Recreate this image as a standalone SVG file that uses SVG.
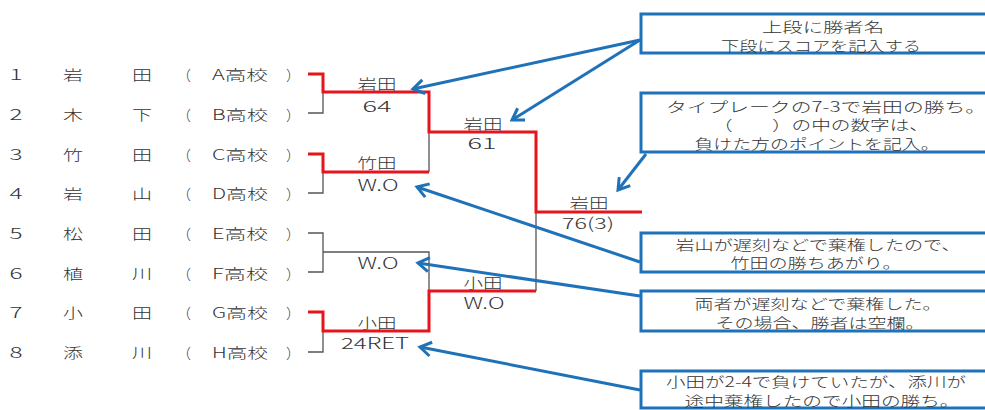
<svg xmlns="http://www.w3.org/2000/svg" width="985" height="410" viewBox="0 0 985 410">
<defs>
<style>
text{font-family:"Noto Sans CJK JP","Noto Sans",sans-serif;fill:#333;font-size:14px;font-weight:300;text-anchor:middle}
.lat{font-size:15.5px}
.st{text-anchor:start}
.red{fill:none;stroke:#e8141c;stroke-width:3;stroke-linejoin:miter}
.gry{fill:none;stroke:#555;stroke-width:1.3}
.arr{fill:none;stroke:#1f72b8;stroke-width:3;marker-end:url(#ah)}
.box{fill:#fff;stroke:#1f72b8;stroke-width:3}
</style>
<marker id="ah" markerUnits="userSpaceOnUse" viewBox="-14 -10 16 20" refX="0" refY="0" markerWidth="16" markerHeight="20" orient="auto" overflow="visible">
<path d="M-11,-7 L0,0 L-11,7" fill="none" stroke="#1f72b8" stroke-width="3"/>
</marker>
</defs>
<rect width="985" height="410" fill="#fff"/>

<g id="players">
<g id="p1"><text class="lat" x="16" y="80" textLength="13" lengthAdjust="spacingAndGlyphs">1</text><text x="73" y="80" textLength="20" lengthAdjust="spacingAndGlyphs">岩</text><text x="142" y="80" textLength="20" lengthAdjust="spacingAndGlyphs">田</text><text class="st" x="177" y="80">（</text><text x="240" y="80" textLength="56" lengthAdjust="spacingAndGlyphs">A高校</text><text class="st" x="286" y="80">）</text></g>
<g id="p2"><text class="lat" x="16" y="119.5" textLength="13" lengthAdjust="spacingAndGlyphs">2</text><text x="73" y="119.5" textLength="20" lengthAdjust="spacingAndGlyphs">木</text><text x="142" y="119.5" textLength="20" lengthAdjust="spacingAndGlyphs">下</text><text class="st" x="177" y="119.5">（</text><text x="240" y="119.5" textLength="56" lengthAdjust="spacingAndGlyphs">B高校</text><text class="st" x="286" y="119.5">）</text></g>
<g id="p3"><text class="lat" x="16" y="159.5" textLength="13" lengthAdjust="spacingAndGlyphs">3</text><text x="73" y="159.5" textLength="20" lengthAdjust="spacingAndGlyphs">竹</text><text x="142" y="159.5" textLength="20" lengthAdjust="spacingAndGlyphs">田</text><text class="st" x="177" y="159.5">（</text><text x="240" y="159.5" textLength="56" lengthAdjust="spacingAndGlyphs">C高校</text><text class="st" x="286" y="159.5">）</text></g>
<g id="p4"><text class="lat" x="16" y="199" textLength="13" lengthAdjust="spacingAndGlyphs">4</text><text x="73" y="199" textLength="20" lengthAdjust="spacingAndGlyphs">岩</text><text x="142" y="199" textLength="20" lengthAdjust="spacingAndGlyphs">山</text><text class="st" x="177" y="199">（</text><text x="240" y="199" textLength="56" lengthAdjust="spacingAndGlyphs">D高校</text><text class="st" x="286" y="199">）</text></g>
<g id="p5"><text class="lat" x="16" y="239" textLength="13" lengthAdjust="spacingAndGlyphs">5</text><text x="73" y="239" textLength="20" lengthAdjust="spacingAndGlyphs">松</text><text x="142" y="239" textLength="20" lengthAdjust="spacingAndGlyphs">田</text><text class="st" x="177" y="239">（</text><text x="240" y="239" textLength="56" lengthAdjust="spacingAndGlyphs">E高校</text><text class="st" x="286" y="239">）</text></g>
<g id="p6"><text class="lat" x="16" y="278.5" textLength="13" lengthAdjust="spacingAndGlyphs">6</text><text x="73" y="278.5" textLength="20" lengthAdjust="spacingAndGlyphs">植</text><text x="142" y="278.5" textLength="20" lengthAdjust="spacingAndGlyphs">川</text><text class="st" x="177" y="278.5">（</text><text x="240" y="278.5" textLength="56" lengthAdjust="spacingAndGlyphs">F高校</text><text class="st" x="286" y="278.5">）</text></g>
<g id="p7"><text class="lat" x="16" y="318" textLength="13" lengthAdjust="spacingAndGlyphs">7</text><text x="73" y="318" textLength="20" lengthAdjust="spacingAndGlyphs">小</text><text x="142" y="318" textLength="20" lengthAdjust="spacingAndGlyphs">田</text><text class="st" x="177" y="318">（</text><text x="240" y="318" textLength="56" lengthAdjust="spacingAndGlyphs">G高校</text><text class="st" x="286" y="318">）</text></g>
<g id="p8"><text class="lat" x="16" y="358" textLength="13" lengthAdjust="spacingAndGlyphs">8</text><text x="73" y="358" textLength="20" lengthAdjust="spacingAndGlyphs">添</text><text x="142" y="358" textLength="20" lengthAdjust="spacingAndGlyphs">川</text><text class="st" x="177" y="358">（</text><text x="240" y="358" textLength="56" lengthAdjust="spacingAndGlyphs">H高校</text><text class="st" x="286" y="358">）</text></g>
</g>

<g id="bracket">
<path class="gry" d="M308,113 H323 V92 M429,132 V172 M308,193 H323 V172 M308,233 H323 V272 H308 M323,252 H429 V291 M308,352 H323 V331 M536,212 V291"/>
<path class="red" d="M308,74 H323 V92 H429 V132 H536 V212 H642"/>
<path class="red" d="M308,154 H323 V172 H429"/>
<path class="red" d="M308,312 H323 V331 H429 V291 H536"/>
</g>

<g id="results">
<g id="m1"><text x="377" y="89" textLength="39" lengthAdjust="spacingAndGlyphs">岩田</text><text class="lat" x="377" y="111.5" textLength="29" lengthAdjust="spacingAndGlyphs">64</text></g>
<g id="m2"><text x="377" y="168" textLength="39" lengthAdjust="spacingAndGlyphs">竹田</text><text class="lat" x="378" y="190.5" textLength="41" lengthAdjust="spacingAndGlyphs">W.O</text></g>
<g id="m3"><text class="lat" x="378" y="268.5" textLength="41" lengthAdjust="spacingAndGlyphs">W.O</text></g>
<g id="m4"><text x="377" y="328" textLength="39" lengthAdjust="spacingAndGlyphs">小田</text><text class="lat" x="375" y="349" textLength="68" lengthAdjust="spacingAndGlyphs">24RET</text></g>
<g id="s1"><text x="483" y="129" textLength="39" lengthAdjust="spacingAndGlyphs">岩田</text><text class="lat" x="482" y="149" textLength="29" lengthAdjust="spacingAndGlyphs">61</text></g>
<g id="s2"><text x="483" y="288" textLength="39" lengthAdjust="spacingAndGlyphs">小田</text><text class="lat" x="484" y="309" textLength="41" lengthAdjust="spacingAndGlyphs">W.O</text></g>
<g id="final"><text x="589" y="208" textLength="39" lengthAdjust="spacingAndGlyphs">岩田</text><text class="lat" x="588" y="229" textLength="52" lengthAdjust="spacingAndGlyphs">76(3)</text></g>
</g>

<g id="connectors">
<path class="arr" d="M640,40 L413,89"/>
<path class="arr" d="M640,40 L512,120"/>
<path class="arr" d="M646,154 L618,190"/>
<path class="arr" d="M640,262 L417,187"/>
<path class="arr" d="M640,296 L418,263"/>
<path class="arr" d="M640,390 L420,347"/>
</g>

<g id="note1"><rect class="box" x="641" y="14" width="370" height="39"/><text x="823" y="32" textLength="122" lengthAdjust="spacingAndGlyphs">上段に勝者名</text><text x="821" y="50.5" textLength="200" lengthAdjust="spacingAndGlyphs">下段にスコアを記入する</text></g>
<g id="note2"><rect class="box" x="641" y="93" width="370" height="59"/><text x="826" y="112" textLength="320" lengthAdjust="spacingAndGlyphs">タイプレークの7-3で岩田の勝ち。</text><text x="821" y="130" textLength="216" lengthAdjust="spacingAndGlyphs">（　　）の中の数字は、</text><text x="817" y="148.5" textLength="245" lengthAdjust="spacingAndGlyphs">負けた方のポイントを記入。</text></g>
<g id="note3"><rect class="box" x="641" y="233" width="370" height="39"/><text x="818" y="250" textLength="285" lengthAdjust="spacingAndGlyphs">岩山が遅刻などで棄権したので、</text><text x="816" y="268" textLength="171" lengthAdjust="spacingAndGlyphs">竹田の勝ちあがり。</text></g>
<g id="note4"><rect class="box" x="641" y="291" width="370" height="40"/><text x="818" y="309" textLength="247" lengthAdjust="spacingAndGlyphs">両者が遅刻などで棄権した。</text><text x="820" y="328" textLength="209" lengthAdjust="spacingAndGlyphs">その場合、勝者は空欄。</text></g>
<g id="note5"><rect class="box" x="641" y="371" width="370" height="37"/><text x="816" y="386.5" textLength="300" lengthAdjust="spacingAndGlyphs">小田が2-4で負けていたが、添川が</text><text x="822" y="405.5" textLength="275" lengthAdjust="spacingAndGlyphs">途中棄権したので小田の勝ち。</text></g>
</svg>
